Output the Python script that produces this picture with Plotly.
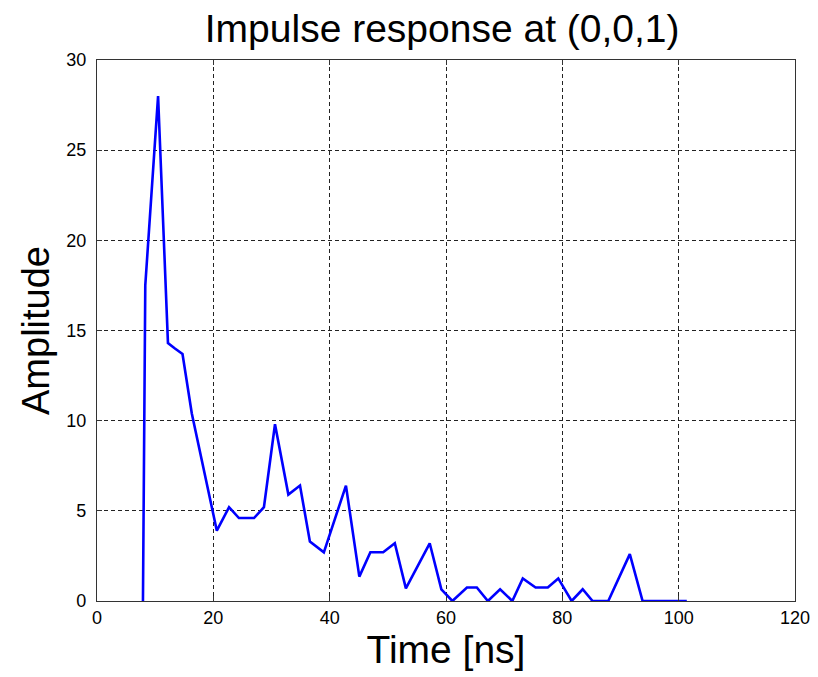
import plotly.graph_objects as go

time_ns = [7.9, 8.05, 8.3, 10.5, 12.2, 13.4, 14.7, 16.3, 20.6, 22.7, 24.4, 27.0, 28.7,
           30.6, 32.9, 34.9, 36.6, 39.0, 42.8, 45.1, 47.0, 49.2, 51.2, 53.1, 57.2,
           59.2, 61.1, 63.6, 65.3, 67.2, 69.3, 71.4, 73.2, 75.4, 77.5, 79.3, 81.6,
           83.5, 85.2, 87.9, 91.6, 93.8, 101.4]
amplitude = [0, 5.8, 17.5, 28.0, 14.3, 14.0, 13.7, 10.4, 3.9, 5.2, 4.6, 4.6, 5.2,
             9.8, 5.9, 6.4, 3.3, 2.7, 6.4, 1.35, 2.7, 2.7, 3.2, 0.7, 3.2,
             0.65, 0, 0.75, 0.75, 0, 0.65, 0, 1.25, 0.75, 0.75, 1.25, 0,
             0.65, 0, 0, 2.6, 0, 0]

x_ticks = [0, 20, 40, 60, 80, 100, 120]
y_ticks = [0, 5, 10, 15, 20, 25, 30]

FONT = "Liberation Sans, Arial, sans-serif"

fig = go.Figure()
fig.add_trace(go.Scatter(x=time_ns, y=amplitude, mode="lines",
                         line=dict(color="#0000FF", width=2.6),
                         hoverinfo="x+y", showlegend=False))

axis_common = dict(
    showline=True, linecolor="#333333", linewidth=1.2, mirror="ticks",
    ticks="inside", ticklen=5, tickcolor="#333333", tickwidth=1,
    showgrid=True, gridcolor="#222222", gridwidth=1, griddash="4px,3px",
    zeroline=False, tickfont=dict(family=FONT, size=18, color="#000000"),
)

fig.update_layout(
    width=810, height=669,
    paper_bgcolor="white", plot_bgcolor="white",
    margin=dict(l=89, r=23, t=52, b=76, autoexpand=False),
    title=dict(text="Impulse response at (0,0,1)", x=0.536, xanchor="center",
               y=1 - 20 / 669, yanchor="middle", yref="container",
               font=dict(family=FONT, size=39, color="#000000")),
    xaxis=dict(range=[0, 120], tickvals=x_ticks, ticktext=[str(v) for v in x_ticks],
               title=dict(text="Time [ns]", standoff=0,
                          font=dict(family=FONT, size=39, color="#000000")),
               ticklabelstandoff=0, automargin=False, **axis_common),
    yaxis=dict(range=[0, 30], tickvals=y_ticks, ticktext=[str(v) for v in y_ticks],
               title=dict(text="Amplitude", standoff=4,
                          font=dict(family=FONT, size=38, color="#000000")),
               ticklabelstandoff=6, automargin=False, **axis_common),
)

fig.write_html("out.html")
